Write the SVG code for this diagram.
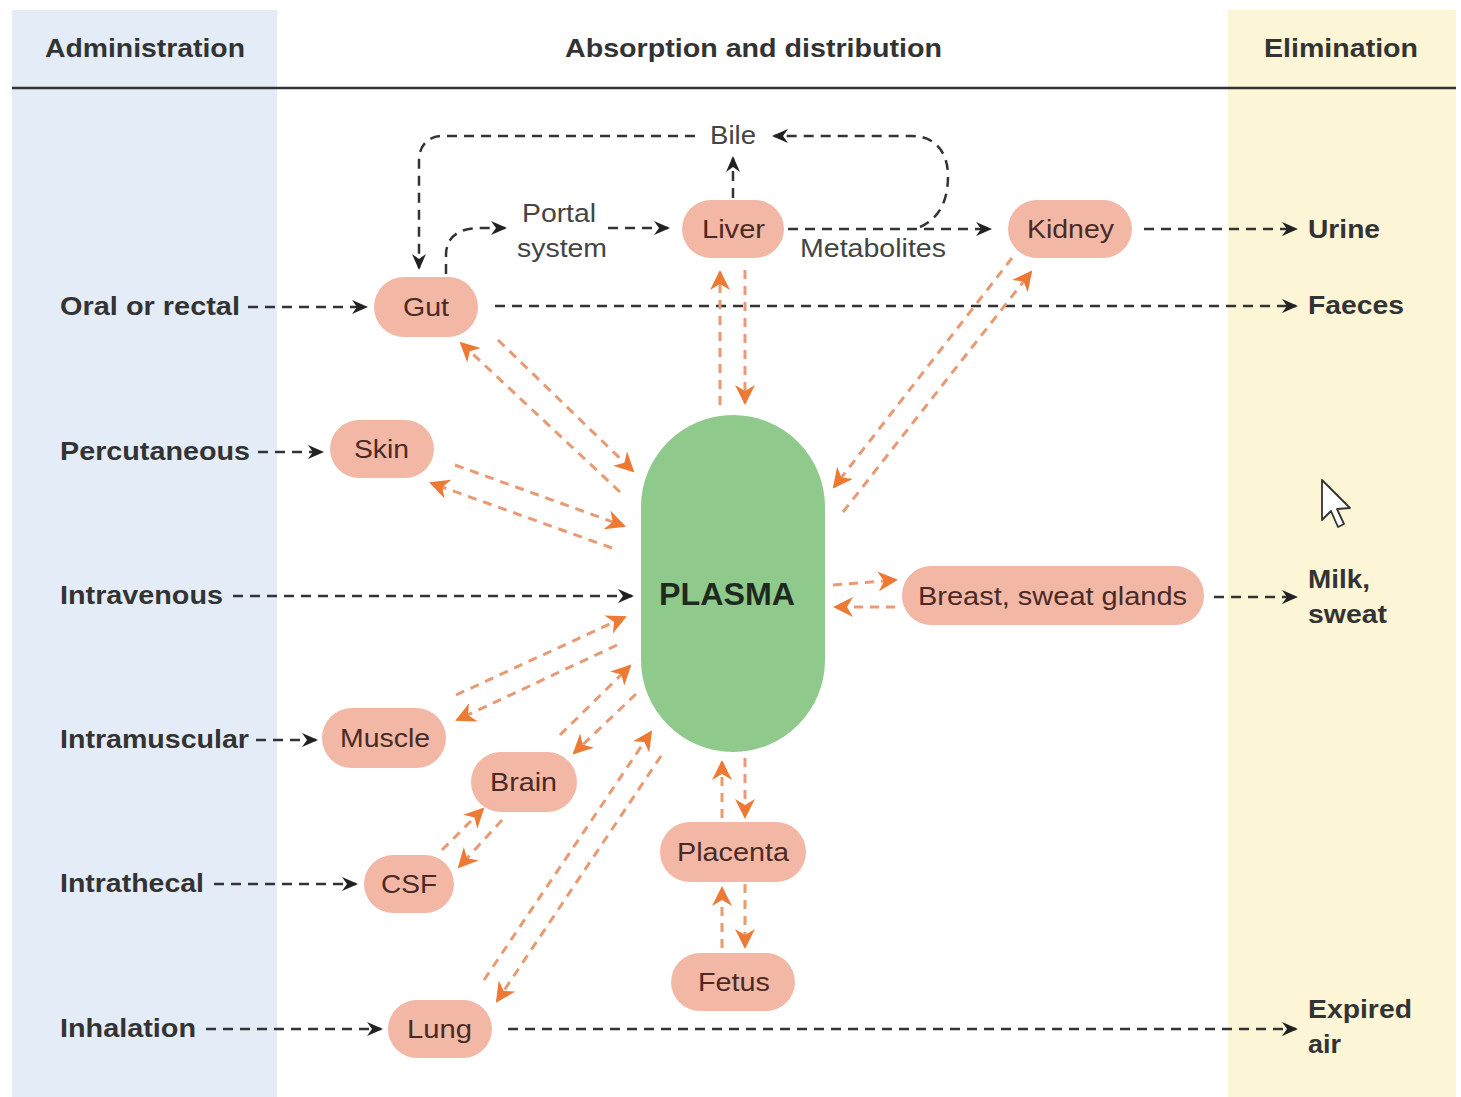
<svg xmlns="http://www.w3.org/2000/svg" width="1461" height="1097" viewBox="0 0 1461 1097">
<style>
.hdr{font-family:"Liberation Sans",Arial,sans-serif;font-weight:bold;font-size:25px;fill:#333}
.lbl{font-family:"Liberation Sans",Arial,sans-serif;font-weight:bold;font-size:25px;fill:#333}
.ntx{font-family:"Liberation Sans",Arial,sans-serif;font-size:26px;fill:#4a2a24}
.plain{font-family:"Liberation Sans",Arial,sans-serif;font-size:26px;fill:#444}
.node{fill:#f3b7a5}
.blk{fill:none;stroke:#333;stroke-width:2.5;stroke-dasharray:10 7;marker-end:url(#ab)}
.org{fill:none;stroke:#e89a72;stroke-width:3;stroke-dasharray:9 7;marker-end:url(#ao)}
</style>
<defs>
<marker id="ab" markerUnits="userSpaceOnUse" markerWidth="20" markerHeight="16" refX="14" refY="8" orient="auto">
<path d="M0,1 L16,8 L0,15 L5,8 Z" fill="#222"/>
</marker>
<marker id="ao" markerUnits="userSpaceOnUse" markerWidth="24" markerHeight="20" refX="18" refY="10" orient="auto">
<path d="M0,0 L20,10 L0,20 L6,10 Z" fill="#ec7a34"/>
</marker>
</defs>
<rect width="1461" height="1097" fill="#ffffff"/>
<rect x="12" y="10" width="265" height="1087" fill="#e4ecf7"/>
<rect x="1228" y="10" width="228" height="1087" fill="#fcf6d6"/>
<line x1="12" y1="88" x2="1456" y2="88" stroke="#333" stroke-width="2.5"/>
<text class="hdr" x="45" y="57" textLength="200" lengthAdjust="spacingAndGlyphs">Administration</text>
<text class="hdr" x="565" y="57" textLength="377" lengthAdjust="spacingAndGlyphs">Absorption and distribution</text>
<text class="hdr" x="1264" y="57" textLength="154" lengthAdjust="spacingAndGlyphs">Elimination</text>

<g id="labels">
<text class="lbl" x="60" y="315" textLength="180" lengthAdjust="spacingAndGlyphs">Oral or rectal</text>
<text class="lbl" x="60" y="460" textLength="190" lengthAdjust="spacingAndGlyphs">Percutaneous</text>
<text class="lbl" x="60" y="604" textLength="163" lengthAdjust="spacingAndGlyphs">Intravenous</text>
<text class="lbl" x="60" y="748" textLength="189" lengthAdjust="spacingAndGlyphs">Intramuscular</text>
<text class="lbl" x="60" y="892" textLength="144" lengthAdjust="spacingAndGlyphs">Intrathecal</text>
<text class="lbl" x="60" y="1037" textLength="136" lengthAdjust="spacingAndGlyphs">Inhalation</text>
<text class="lbl" x="1308" y="238" textLength="72" lengthAdjust="spacingAndGlyphs">Urine</text>
<text class="lbl" x="1308" y="314" textLength="96" lengthAdjust="spacingAndGlyphs">Faeces</text>
<text class="lbl" x="1308" y="588" textLength="62" lengthAdjust="spacingAndGlyphs">Milk,</text>
<text class="lbl" x="1308" y="623" textLength="79" lengthAdjust="spacingAndGlyphs">sweat</text>
<text class="lbl" x="1308" y="1018" textLength="104" lengthAdjust="spacingAndGlyphs">Expired</text>
<text class="lbl" x="1308" y="1053" textLength="33" lengthAdjust="spacingAndGlyphs">air</text>
<text class="plain" x="710" y="144" textLength="46" lengthAdjust="spacingAndGlyphs">Bile</text>
<text class="plain" x="522" y="222" textLength="74" lengthAdjust="spacingAndGlyphs">Portal</text>
<text class="plain" x="517" y="257" textLength="90" lengthAdjust="spacingAndGlyphs">system</text>
<text class="plain" x="800" y="257" textLength="146" lengthAdjust="spacingAndGlyphs">Metabolites</text>
</g>

<g id="connectors">
<path class="blk" d="M248,307 H366"/>
<path class="blk" d="M258,452 H322"/>
<path class="blk" d="M233,596 H632"/>
<path class="blk" d="M256,740 H316"/>
<path class="blk" d="M214,884 H356"/>
<path class="blk" d="M206,1029 H381"/>
<path class="blk" d="M495,306 H1296"/>
<path class="blk" d="M1144,229 H1296"/>
<path class="blk" d="M1214,597 H1296"/>
<path class="blk" d="M508,1029 H1296"/>
<path class="blk" d="M788,229 H990"/>
<path class="blk" d="M608,228 H668"/>
<path class="blk" d="M446,274 V255 C446,236 460,228 480,228 H505"/>
<path class="blk" d="M733,198 V158"/>
<path class="blk" d="M695,136 H442 C428,136 419,146 419,160 V268"/>
<path class="blk" d="M920,227 C940,218 948,200 948,176 C948,152 935,136 912,136 H774"/>

<path class="org" d="M498,340 L633,471"/>
<path class="org" d="M620,492 L461,343"/>
<path class="org" d="M455,465 L624,526"/>
<path class="org" d="M612,548 L431,483"/>
<path class="org" d="M720,405 L720,272"/>
<path class="org" d="M745,270 L745,403"/>
<path class="org" d="M1012,258 L834,487"/>
<path class="org" d="M843,512 L1031,272"/>
<path class="org" d="M833,585 L896,580"/>
<path class="org" d="M895,607 L835,607"/>
<path class="org" d="M456,695 L625,617"/>
<path class="org" d="M617,645 L457,720"/>
<path class="org" d="M560,735 L630,666"/>
<path class="org" d="M636,694 L574,753"/>
<path class="org" d="M442,850 L483,809"/>
<path class="org" d="M502,820 L459,867"/>
<path class="org" d="M484,980 L651,732"/>
<path class="org" d="M661,756 L497,1001"/>
<path class="org" d="M722,818 L722,762"/>
<path class="org" d="M745,758 L745,817"/>
<path class="org" d="M722,948 L722,888"/>
<path class="org" d="M745,884 L745,947"/>
</g>

<g id="plasma">
<rect x="641" y="415" width="184" height="337" rx="92" fill="#8fca8c"/>
<text x="659" y="605" font-family="Liberation Sans,Arial,sans-serif" font-weight="bold" font-size="31" fill="#1f2a1f" textLength="136" lengthAdjust="spacingAndGlyphs">PLASMA</text>
</g>
<g id="gut"><rect class="node" x="374" y="277" width="104" height="60" rx="30"/><text class="ntx" x="403" y="316" textLength="46" lengthAdjust="spacingAndGlyphs">Gut</text></g>
<g id="liver"><rect class="node" x="682" y="200" width="102" height="58" rx="29"/><text class="ntx" x="702" y="238" textLength="63" lengthAdjust="spacingAndGlyphs">Liver</text></g>
<g id="kidney"><rect class="node" x="1008" y="200" width="124" height="58" rx="29"/><text class="ntx" x="1027" y="238" textLength="87" lengthAdjust="spacingAndGlyphs">Kidney</text></g>
<g id="skin"><rect class="node" x="330" y="420" width="104" height="58" rx="29"/><text class="ntx" x="354" y="458" textLength="55" lengthAdjust="spacingAndGlyphs">Skin</text></g>
<g id="breast"><rect class="node" x="902" y="566" width="302" height="59" rx="29"/><text class="ntx" x="918" y="605" textLength="269" lengthAdjust="spacingAndGlyphs">Breast, sweat glands</text></g>
<g id="muscle"><rect class="node" x="322" y="708" width="124" height="60" rx="30"/><text class="ntx" x="340" y="747" textLength="90" lengthAdjust="spacingAndGlyphs">Muscle</text></g>
<g id="brain"><rect class="node" x="471" y="752" width="106" height="60" rx="30"/><text class="ntx" x="490" y="791" textLength="67" lengthAdjust="spacingAndGlyphs">Brain</text></g>
<g id="csf"><rect class="node" x="364" y="855" width="90" height="58" rx="29"/><text class="ntx" x="381" y="893" textLength="56" lengthAdjust="spacingAndGlyphs">CSF</text></g>
<g id="placenta"><rect class="node" x="660" y="822" width="146" height="60" rx="30"/><text class="ntx" x="677" y="861" textLength="112" lengthAdjust="spacingAndGlyphs">Placenta</text></g>
<g id="fetus"><rect class="node" x="671" y="953" width="124" height="58" rx="29"/><text class="ntx" x="698" y="991" textLength="72" lengthAdjust="spacingAndGlyphs">Fetus</text></g>
<g id="lung"><rect class="node" x="388" y="1000" width="104" height="58" rx="29"/><text class="ntx" x="407" y="1038" textLength="65" lengthAdjust="spacingAndGlyphs">Lung</text></g>

<path d="M1322,480 L1322,520 L1331,511 L1338,527 L1344,524 L1337,509 L1350,508 Z" fill="#fff" stroke="#333" stroke-width="1.8" stroke-linejoin="round"/>
</svg>
